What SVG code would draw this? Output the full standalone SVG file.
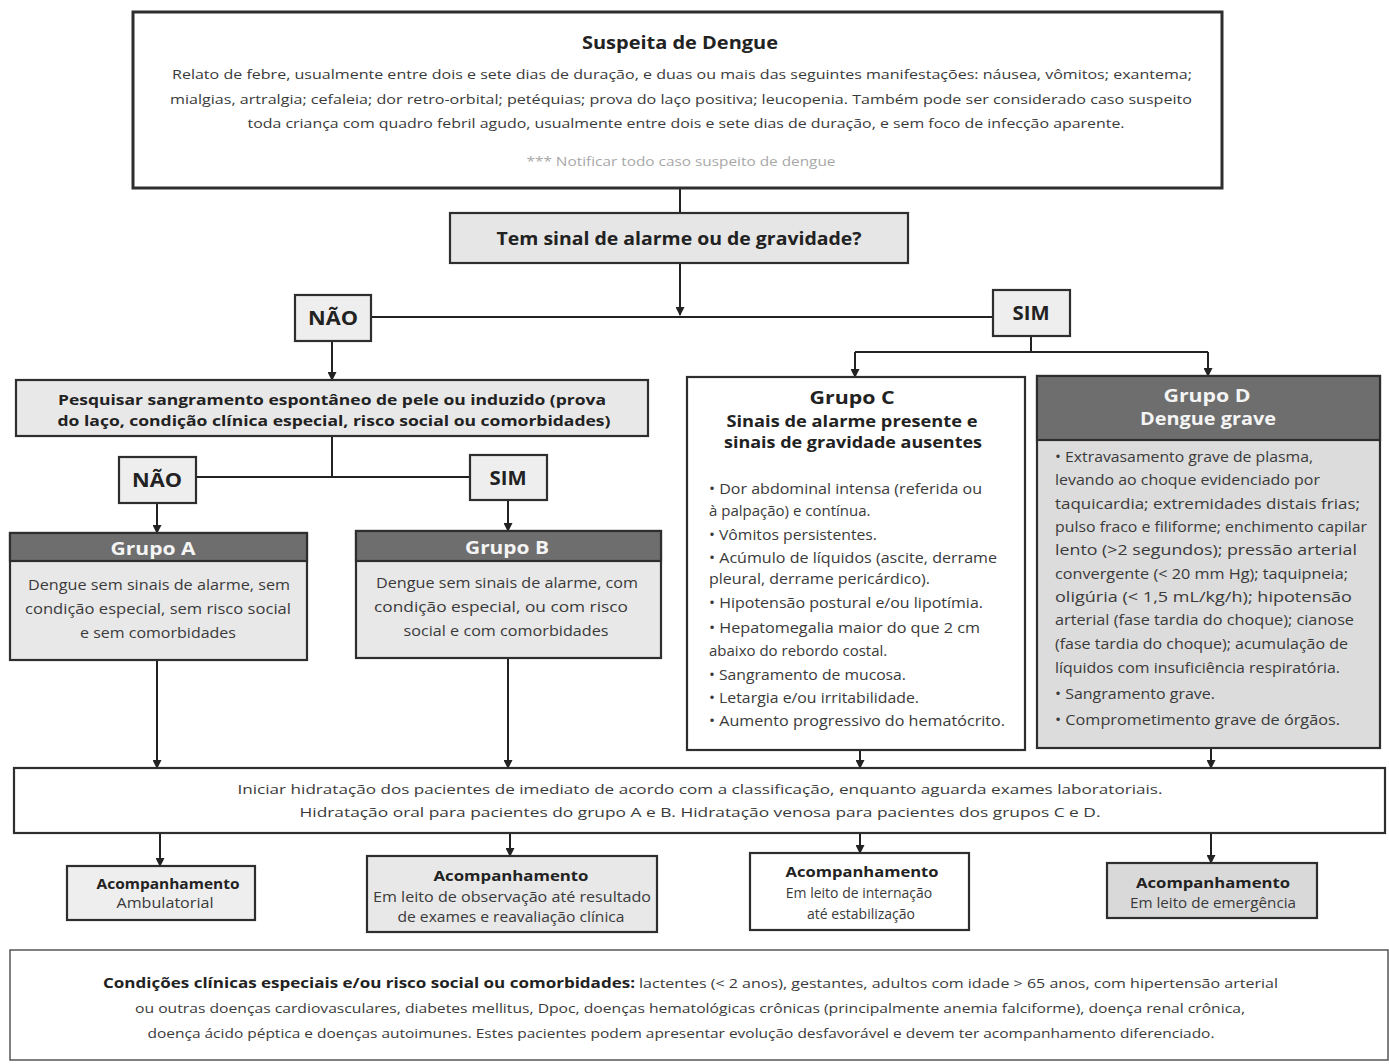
<svg xmlns="http://www.w3.org/2000/svg" width="1389" height="1064" viewBox="0 0 1389 1064">
<style>
text{font-family:"Open Sans","Liberation Sans",sans-serif;fill:#3a3a3a}
.b{font-weight:bold;fill:#222}
.c{text-anchor:middle}
.wt{fill:#f4f4f4}
.box{stroke:#2e2e2e;stroke-width:2.2}
.thick{stroke:#2e2e2e;stroke-width:3}
.conn line{stroke:#222;stroke-width:2;fill:none}
.p{font-size:12.5px}
.s{font-size:15px}
.m{font-size:14px}
.h{fill:#6e6e6e}
</style>
<defs>
<marker id="ar" markerWidth="9" markerHeight="9" refX="8" refY="4.5" orient="auto" markerUnits="userSpaceOnUse">
<path d="M0,0 L9,4.5 L0,9 z" fill="#222"/>
</marker>
</defs>
<rect width="1389" height="1064" fill="#fff"/>

<g class="conn">
<line x1="680" y1="188" x2="680" y2="213"/>
<line x1="680" y1="263" x2="680" y2="315" marker-end="url(#ar)"/>
<line x1="371" y1="317" x2="993" y2="317"/>
<line x1="332" y1="341" x2="332" y2="380" marker-end="url(#ar)"/>
<line x1="1031" y1="336" x2="1031" y2="352"/>
<line x1="855" y1="352" x2="1208" y2="352"/>
<line x1="855" y1="352" x2="855" y2="377" marker-end="url(#ar)"/>
<line x1="1208" y1="352" x2="1208" y2="376" marker-end="url(#ar)"/>
<line x1="332" y1="436" x2="332" y2="477"/>
<line x1="196" y1="477" x2="470" y2="477"/>
<line x1="157" y1="503" x2="157" y2="533" marker-end="url(#ar)"/>
<line x1="508" y1="500" x2="508" y2="531" marker-end="url(#ar)"/>
<line x1="157" y1="660" x2="157" y2="768" marker-end="url(#ar)"/>
<line x1="508" y1="658" x2="508" y2="768" marker-end="url(#ar)"/>
<line x1="860" y1="750" x2="860" y2="768" marker-end="url(#ar)"/>
<line x1="1211" y1="748" x2="1211" y2="768" marker-end="url(#ar)"/>
<line x1="160" y1="833" x2="160" y2="866" marker-end="url(#ar)"/>
<line x1="510" y1="833" x2="510" y2="856" marker-end="url(#ar)"/>
<line x1="860" y1="833" x2="860" y2="853" marker-end="url(#ar)"/>
<line x1="1211" y1="833" x2="1211" y2="863" marker-end="url(#ar)"/>
</g>

<g id="suspeita">
<rect x="133" y="12" width="1089" height="176" fill="#fff" class="thick"/>
<text x="680" y="49" class="b c" font-size="17" textLength="196" lengthAdjust="spacingAndGlyphs">Suspeita de Dengue</text>
<text x="682" y="79" class="p c" textLength="1020" lengthAdjust="spacingAndGlyphs">Relato de febre, usualmente entre dois e sete dias de duração, e duas ou mais das seguintes manifestações: náusea, vômitos; exantema;</text>
<text x="681" y="104" class="p c" textLength="1022" lengthAdjust="spacingAndGlyphs">mialgias, artralgia; cefaleia; dor retro-orbital; petéquias; prova do laço positiva; leucopenia. Também pode ser considerado caso suspeito</text>
<text x="686" y="128" class="p c" textLength="877" lengthAdjust="spacingAndGlyphs">toda criança com quadro febril agudo, usualmente entre dois e sete dias de duração, e sem foco de infecção aparente.</text>
<text x="681" y="166" class="p c" style="fill:#a8a8a8" textLength="309" lengthAdjust="spacingAndGlyphs">*** Notificar todo caso suspeito de dengue</text>
</g>

<g id="alarme">
<rect x="450" y="213" width="458" height="50" fill="#e6e6e6" class="box"/>
<text x="679" y="245" class="b c" font-size="18" textLength="365" lengthAdjust="spacingAndGlyphs">Tem sinal de alarme ou de gravidade?</text>
</g>

<g id="nao1">
<rect x="295" y="295" width="76" height="46" fill="#eeeeee" class="box"/>
<text x="333" y="325" class="b c" font-size="19" textLength="50" lengthAdjust="spacingAndGlyphs">NÃO</text>
</g>
<g id="sim1">
<rect x="993" y="290" width="77" height="46" fill="#eeeeee" class="box"/>
<text x="1031" y="320" class="b c" font-size="19" textLength="37" lengthAdjust="spacingAndGlyphs">SIM</text>
</g>

<g id="pesquisar">
<rect x="16" y="380" width="632" height="56" fill="#e8e8e8" class="box"/>
<text x="332" y="405" class="b c" font-size="14" textLength="548" lengthAdjust="spacingAndGlyphs">Pesquisar sangramento espontâneo de pele ou induzido (prova</text>
<text x="334" y="426" class="b c" font-size="14" textLength="553" lengthAdjust="spacingAndGlyphs">do laço, condição clínica especial, risco social ou comorbidades)</text>
</g>

<g id="nao2">
<rect x="119" y="457" width="77" height="46" fill="#eeeeee" class="box"/>
<text x="157" y="487" class="b c" font-size="19" textLength="50" lengthAdjust="spacingAndGlyphs">NÃO</text>
</g>
<g id="sim2">
<rect x="470" y="455" width="77" height="45" fill="#eeeeee" class="box"/>
<text x="508" y="485" class="b c" font-size="19" textLength="37" lengthAdjust="spacingAndGlyphs">SIM</text>
</g>

<g id="grupoA">
<rect x="10" y="533" width="297" height="127" fill="#e8e8e8" class="box"/>
<rect x="10" y="533" width="297" height="28" class="h box"/>
<text x="153" y="555" class="b c wt" font-size="17" textLength="85" lengthAdjust="spacingAndGlyphs">Grupo A</text>
<text x="159" y="590" class="s c" textLength="262" lengthAdjust="spacingAndGlyphs">Dengue sem sinais de alarme, sem</text>
<text x="158" y="614" class="s c" textLength="266" lengthAdjust="spacingAndGlyphs">condição especial, sem risco social</text>
<text x="158" y="638" class="s c" textLength="156" lengthAdjust="spacingAndGlyphs">e sem comorbidades</text>
</g>

<g id="grupoB">
<rect x="356" y="531" width="305" height="127" fill="#e8e8e8" class="box"/>
<rect x="356" y="531" width="305" height="30" class="h box"/>
<text x="507" y="554" class="b c wt" font-size="17" textLength="84" lengthAdjust="spacingAndGlyphs">Grupo B</text>
<text x="507" y="588" class="s c" textLength="262" lengthAdjust="spacingAndGlyphs">Dengue sem sinais de alarme, com</text>
<text x="501" y="612" class="s c" textLength="254" lengthAdjust="spacingAndGlyphs">condição especial, ou com risco</text>
<text x="506" y="636" class="s c" textLength="205" lengthAdjust="spacingAndGlyphs">social e com comorbidades</text>
</g>

<g id="grupoC">
<rect x="687" y="377" width="338" height="373" fill="#fff" class="box"/>
<text x="852" y="404" class="b c" font-size="18" textLength="85" lengthAdjust="spacingAndGlyphs">Grupo C</text>
<text x="852" y="427" class="b c" font-size="16" textLength="251" lengthAdjust="spacingAndGlyphs">Sinais de alarme presente e</text>
<text x="853" y="448" class="b c" font-size="16" textLength="258" lengthAdjust="spacingAndGlyphs">sinais de gravidade ausentes</text>
<g class="s">
<text x="709" y="494" textLength="273" lengthAdjust="spacingAndGlyphs">• Dor abdominal intensa (referida ou</text>
<text x="709" y="516">à palpação) e contínua.</text>
<text x="709" y="540" textLength="168" lengthAdjust="spacingAndGlyphs">• Vômitos persistentes.</text>
<text x="709" y="563" textLength="288" lengthAdjust="spacingAndGlyphs">• Acúmulo de líquidos (ascite, derrame</text>
<text x="709" y="584" textLength="221" lengthAdjust="spacingAndGlyphs">pleural, derrame pericárdico).</text>
<text x="709" y="608" textLength="274" lengthAdjust="spacingAndGlyphs">• Hipotensão postural e/ou lipotímia.</text>
<text x="709" y="633" textLength="271" lengthAdjust="spacingAndGlyphs">• Hepatomegalia maior do que 2 cm</text>
<text x="709" y="656">abaixo do rebordo costal.</text>
<text x="709" y="680" textLength="197" lengthAdjust="spacingAndGlyphs">• Sangramento de mucosa.</text>
<text x="709" y="703" textLength="210" lengthAdjust="spacingAndGlyphs">• Letargia e/ou irritabilidade.</text>
<text x="709" y="726" textLength="296" lengthAdjust="spacingAndGlyphs">• Aumento progressivo do hematócrito.</text>
</g>
</g>

<g id="grupoD">
<rect x="1037" y="376" width="343" height="372" fill="#dcdcdc" class="box"/>
<rect x="1037" y="376" width="343" height="64" class="h box"/>
<text x="1207" y="402" class="b c wt" font-size="18" textLength="87" lengthAdjust="spacingAndGlyphs">Grupo D</text>
<text x="1208" y="425" class="b c wt" font-size="17" textLength="136" lengthAdjust="spacingAndGlyphs">Dengue grave</text>
<g class="s">
<text x="1055" y="462" textLength="258" lengthAdjust="spacingAndGlyphs">• Extravasamento grave de plasma,</text>
<text x="1055" y="485" textLength="265" lengthAdjust="spacingAndGlyphs">levando ao choque evidenciado por</text>
<text x="1055" y="509" textLength="305" lengthAdjust="spacingAndGlyphs">taquicardia; extremidades distais frias;</text>
<text x="1055" y="532" textLength="312" lengthAdjust="spacingAndGlyphs">pulso fraco e filiforme; enchimento capilar</text>
<text x="1055" y="555" textLength="302" lengthAdjust="spacingAndGlyphs">lento (&gt;2 segundos); pressão arterial</text>
<text x="1055" y="579" textLength="293" lengthAdjust="spacingAndGlyphs">convergente (&lt; 20 mm Hg); taquipneia;</text>
<text x="1055" y="602" textLength="297" lengthAdjust="spacingAndGlyphs">oligúria (&lt; 1,5 mL/kg/h); hipotensão</text>
<text x="1055" y="625" textLength="299" lengthAdjust="spacingAndGlyphs">arterial (fase tardia do choque); cianose</text>
<text x="1055" y="649" textLength="293" lengthAdjust="spacingAndGlyphs">(fase tardia do choque); acumulação de</text>
<text x="1055" y="673" textLength="285" lengthAdjust="spacingAndGlyphs">líquidos com insuficiência respiratória.</text>
<text x="1055" y="699" textLength="160" lengthAdjust="spacingAndGlyphs">• Sangramento grave.</text>
<text x="1055" y="725" textLength="285" lengthAdjust="spacingAndGlyphs">• Comprometimento grave de órgãos.</text>
</g>
</g>

<g id="hidratacao">
<rect x="14" y="768" width="1371" height="65" fill="#fff" class="box"/>
<text x="700" y="794" class="p c" textLength="925" lengthAdjust="spacingAndGlyphs">Iniciar hidratação dos pacientes de imediato de acordo com a classificação, enquanto aguarda exames laboratoriais.</text>
<text x="700" y="817" class="p c" textLength="801" lengthAdjust="spacingAndGlyphs">Hidratação oral para pacientes do grupo A e B. Hidratação venosa para pacientes dos grupos C e D.</text>
</g>

<g id="acomp1">
<rect x="67" y="866" width="188" height="54" fill="#eeeeee" class="box"/>
<text x="168" y="889" class="b c" font-size="15" textLength="143" lengthAdjust="spacingAndGlyphs">Acompanhamento</text>
<text x="165" y="908" class="m c" textLength="97" lengthAdjust="spacingAndGlyphs">Ambulatorial</text>
</g>
<g id="acomp2">
<rect x="367" y="856" width="290" height="76" fill="#e8e8e8" class="box"/>
<text x="511" y="881" class="b c" font-size="15" textLength="155" lengthAdjust="spacingAndGlyphs">Acompanhamento</text>
<text x="512" y="902" class="m c" textLength="278" lengthAdjust="spacingAndGlyphs">Em leito de observação até resultado</text>
<text x="511" y="922" class="m c" textLength="227" lengthAdjust="spacingAndGlyphs">de exames e reavaliação clínica</text>
</g>
<g id="acomp3">
<rect x="750" y="853" width="219" height="77" fill="#fff" class="box"/>
<text x="862" y="877" class="b c" font-size="15" textLength="153" lengthAdjust="spacingAndGlyphs">Acompanhamento</text>
<text x="859" y="898" class="m c">Em leito de internação</text>
<text x="861" y="919" class="m c">até estabilização</text>
</g>
<g id="acomp4">
<rect x="1107" y="863" width="210" height="55" fill="#d9d9d9" class="box"/>
<text x="1213" y="888" class="b c" font-size="15" textLength="154" lengthAdjust="spacingAndGlyphs">Acompanhamento</text>
<text x="1213" y="908" class="m c" textLength="166" lengthAdjust="spacingAndGlyphs">Em leito de emergência</text>
</g>

<g id="condicoes">
<rect x="10" y="950" width="1378" height="110" fill="#fff" stroke="#555" stroke-width="1.5"/>
<text x="103" y="988" class="b" font-size="14" textLength="532" lengthAdjust="spacingAndGlyphs">Condições clínicas especiais e/ou risco social ou comorbidades:</text>
<text x="639" y="988" class="p" textLength="639" lengthAdjust="spacingAndGlyphs">lactentes (&lt; 2 anos), gestantes, adultos com idade &gt; 65 anos, com hipertensão arterial</text>
<text x="690" y="1013" class="p c" textLength="1110" lengthAdjust="spacingAndGlyphs">ou outras doenças cardiovasculares, diabetes mellitus, Dpoc, doenças hematológicas crônicas (principalmente anemia falciforme), doença renal crônica,</text>
<text x="681" y="1038" class="p c" textLength="1067" lengthAdjust="spacingAndGlyphs">doença ácido péptica e doenças autoimunes. Estes pacientes podem apresentar evolução desfavorável e devem ter acompanhamento diferenciado.</text>
</g>
</svg>
